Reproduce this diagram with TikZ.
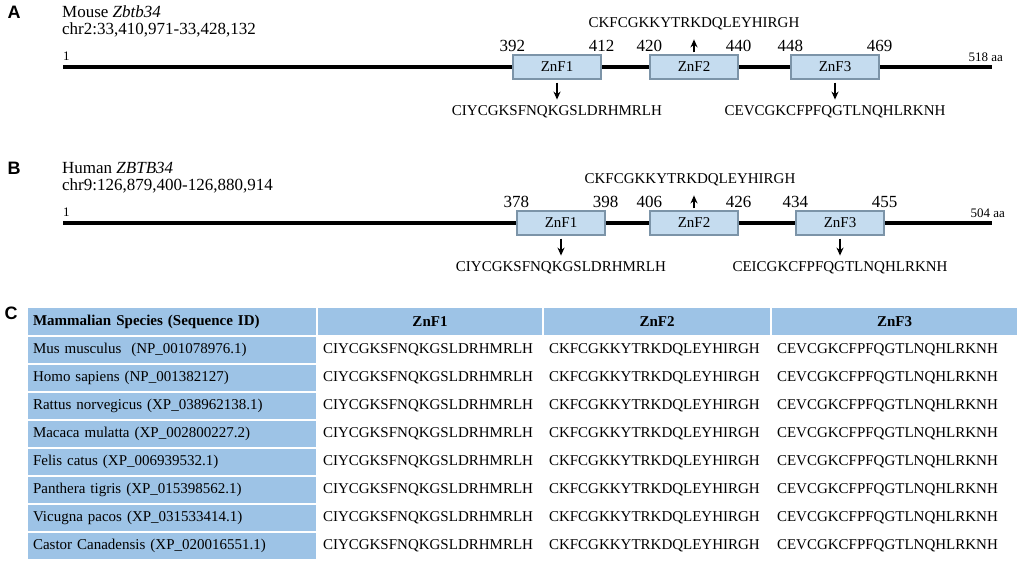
\documentclass[tikz,border=0pt]{standalone}
\usepackage{fontspec}
\setmainfont{Liberation Serif}
\newfontfamily\panelsf{Liberation Sans}
\usetikzlibrary{positioning,arrows.meta}

\definecolor{cellblue}{HTML}{9DC3E6}
\definecolor{boxfill}{HTML}{C5DCEF}
\definecolor{boxline}{HTML}{7C94A8}

\tikzset{
  fs/.style={font=\fontsize{#1}{#1}\selectfont},
  panel/.style={font=\panelsf\bfseries\fontsize{18}{18}\selectfont, inner sep=0pt},
  gene/.style={fs=17, inner sep=0pt, anchor=west},
  protein/.style={line width=4.5pt},
  znf/.style={draw=boxline, fill=boxfill, line width=1.2pt, minimum width=88pt,
    minimum height=24pt, inner sep=0pt, fs=15},
  resid/.style={fs=17, inner sep=0pt},
  endlbl/.style={fs=13, inner sep=0pt},
  motif/.style={fs=15, inner sep=0pt},
  sitearrow/.style={-{Stealth[length=8pt,width=7pt]}, line width=2pt},
  tcell/.style={draw=white, line width=2pt, minimum height=28pt, inner xsep=6pt,
    inner ysep=0pt, outer sep=0pt, fs=15, anchor=north west},
  thead/.style={tcell, fill=cellblue, minimum height=29pt,
    font=\fontsize{15}{15}\selectfont\bfseries}
}

\begin{document}
\begin{tikzpicture}[x=1pt,y=1pt]
\useasboundingbox (0,0) rectangle (1020,565);

% A: mouse
\node[panel] (lblA) at (14,553) {A};
\node[gene] (hA) at (62,553) {Mouse \textit{Zbtb34}};
\node[gene] (chrA) at (62,535) {chr2:33,410,971-33,428,132};
\coordinate (lA0) at (63,498);
\coordinate (lA1) at (992,498);
\draw[protein] (lA0) -- (lA1);
\node[endlbl, anchor=south west] (oneA) at ([yshift=6pt]lA0) {1};
\node[endlbl, anchor=south east] (lenA) at ([xshift=11pt,yshift=5pt]lA1) {518 aa};
\node[znf] (zA1) at (557,498) {ZnF1};
\node[znf] (zA2) at (694,498) {ZnF2};
\node[znf] (zA3) at (835,498) {ZnF3};
\node[resid, above=3pt of zA1.north west] (nA1) {392};
\node[resid, above=3pt of zA1.north east] (nA2) {412};
\node[resid, above=3pt of zA2.north west] (nA3) {420};
\node[resid, above=3pt of zA2.north east] (nA4) {440};
\node[resid, above=3pt of zA3.north west] (nA5) {448};
\node[resid, above=3pt of zA3.north east] (nA6) {469};
\node[motif, above=24pt of zA2] (sA2) {CKFCGKKYTRKDQLEYHIRGH};
\node[motif, below=26pt of zA1] (sA1) {CIYCGKSFNQKGSLDRHMRLH};
\node[motif, below=26pt of zA3] (sA3) {CEVCGKCFPFQGTLNQHLRKNH};
\draw[sitearrow, shorten <=2pt, shorten >=9pt] (zA2.north) -- (zA2.north |- sA2.south);
\draw[sitearrow, shorten <=3pt, shorten >=6pt] (zA1.south) -- (zA1.south |- sA1.north);
\draw[sitearrow, shorten <=3pt, shorten >=6pt] (zA3.south) -- (zA3.south |- sA3.north);

% B: human
\node[panel] (lblB) at (14,397) {B};
\node[gene] (hB) at (62,397) {Human \textit{ZBTB34}};
\node[gene] (chrB) at (62,379) {chr9:126,879,400-126,880,914};
\coordinate (lB0) at (63,342);
\coordinate (lB1) at (992,342);
\draw[protein] (lB0) -- (lB1);
\node[endlbl, anchor=south west] (oneB) at ([yshift=6pt]lB0) {1};
\node[endlbl, anchor=south east] (lenB) at ([xshift=13pt,yshift=5pt]lB1) {504 aa};
\node[znf] (zB1) at (561,342) {ZnF1};
\node[znf] (zB2) at (694,342) {ZnF2};
\node[znf] (zB3) at (840,342) {ZnF3};
\node[resid, above=3pt of zB1.north west] (nB1) {378};
\node[resid, above=3pt of zB1.north east] (nB2) {398};
\node[resid, above=3pt of zB2.north west] (nB3) {406};
\node[resid, above=3pt of zB2.north east] (nB4) {426};
\node[resid, above=3pt of zB3.north west] (nB5) {434};
\node[resid, above=3pt of zB3.north east] (nB6) {455};
\node[motif, above=24pt of zB2, xshift=-4pt] (sB2) {CKFCGKKYTRKDQLEYHIRGH};
\node[motif, below=26pt of zB1] (sB1) {CIYCGKSFNQKGSLDRHMRLH};
\node[motif, below=26pt of zB3] (sB3) {CEICGKCFPFQGTLNQHLRKNH};
\draw[sitearrow, shorten <=2pt, shorten >=9pt] (zB2.north) -- (zB2.north |- sB2.south);
\draw[sitearrow, shorten <=3pt, shorten >=6pt] (zB1.south) -- (zB1.south |- sB1.north);
\draw[sitearrow, shorten <=3pt, shorten >=6pt] (zB3.south) -- (zB3.south |- sB3.north);

% C: alignment table
\node[panel] (lblC) at (11,252) {C};
\node[thead, text width=278pt, align=left] (hsp) at (27,258) {Mammalian Species (Sequence ID)};
\node[thead, text width=214pt, align=center, right=0pt of hsp] (hz1) {ZnF1};
\node[thead, text width=216pt, align=center, right=0pt of hz1] (hz2) {ZnF2};
\node[thead, text width=235pt, align=center, right=0pt of hz2] (hz3) {ZnF3};
\foreach \sp [count=\i] in {Mus musculus\ \ (NP\_001078976.1),
    Homo sapiens (NP\_001382127),
    Rattus norvegicus (XP\_038962138.1),
    Macaca mulatta (XP\_002800227.2),
    Felis catus (XP\_006939532.1),
    Panthera tigris (XP\_015398562.1),
    Vicugna pacos (XP\_031533414.1),
    Castor Canadensis (XP\_020016551.1)} {
  \node[tcell, fill=cellblue, text width=278pt, align=left] (sp\i) at (27,{229-28*(\i-1)}) {\sp};
  \node[tcell, text width=214pt, align=left, right=0pt of sp\i] (fa\i) {CIYCGKSFNQKGSLDRHMRLH};
  \node[tcell, text width=216pt, align=left, right=0pt of fa\i] (fb\i) {CKFCGKKYTRKDQLEYHIRGH};
  \node[tcell, text width=235pt, align=left, right=0pt of fb\i] (fc\i) {CEVCGKCFPFQGTLNQHLRKNH};
}
\end{tikzpicture}
\end{document}
